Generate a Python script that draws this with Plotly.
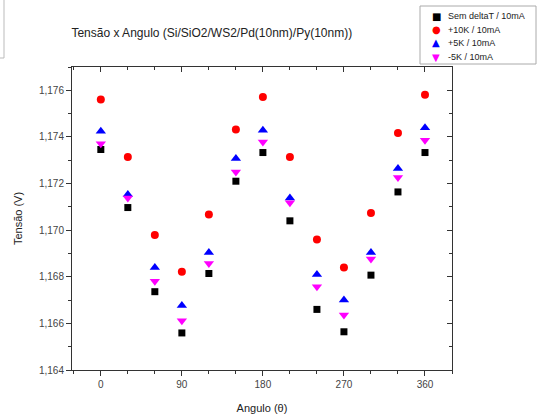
import plotly.graph_objects as go

angles = [0, 30, 60, 90, 120, 150, 180, 210, 240, 270, 300, 330, 360]
sem_delta = [1.17346, 1.17097, 1.16736, 1.16559, 1.16814, 1.17210, 1.17333,
             1.17040, 1.16660, 1.16564, 1.16807, 1.17164, 1.17333]
plus10k = [1.17561, 1.17314, 1.16979, 1.16821, 1.17067, 1.17432, 1.17571,
           1.17314, 1.16960, 1.16840, 1.17074, 1.17417, 1.17581]
plus5k = [1.17424, 1.17153, 1.16840, 1.16677, 1.16904, 1.17307, 1.17429,
          1.17138, 1.16810, 1.16700, 1.16904, 1.17264, 1.17439]
minus5k = [1.17371, 1.17138, 1.16781, 1.16611, 1.16857, 1.17250, 1.17378,
           1.17118, 1.16757, 1.16636, 1.16876, 1.17226, 1.17386]

names = ["Sem deltaT / 10mA", "+10K / 10mA", "+5K / 10mA", "-5K / 10mA"]
series = [sem_delta, plus10k, plus5k, minus5k]
colors = ["#000000", "#ff0000", "#0000ff", "#ff00ff"]
symbols = ["square", "circle", "triangle-up", "triangle-down"]
glyphs = ["■", "●", "▲", "▼"]
sizes = [7, 8, 9, 9]

FONT = "Arial, Liberation Sans, sans-serif"

# plot area in pixels
L, R, T, B = 72, 452, 67, 370
W, H = 539, 420


def px(xp):
    return (xp - L) / (R - L)


def py(yp):
    return (B - yp) / (B - T)


fig = go.Figure()
for n, s, c, sym, sz in zip(names, series, colors, symbols, sizes):
    fig.add_trace(go.Scatter(x=angles, y=s, mode="markers", name=n, showlegend=False,
                             marker=dict(color=c, symbol=sym, size=sz, line=dict(width=0))))

# invisible trace for the mirrored (inward tick) axes
fig.add_trace(go.Scatter(x=[None], y=[None], xaxis="x2", yaxis="y2",
                         showlegend=False, hoverinfo="skip"))

xr = [-32, 390]
yr = [1.164, 1.177]

# custom compact legend (Origin style)
annotations = []
row_y = [16, 30, 43, 57]
for g, c, n, ry in zip(glyphs, colors, names, row_y):
    annotations.append(dict(xref="paper", yref="paper", x=px(430), y=py(ry),
                            xanchor="left", yanchor="middle", showarrow=False,
                            text=f"<span style='color:{c}'>{g}</span>",
                            font=dict(size=10, family="DejaVu Sans", color=c)))
    annotations.append(dict(xref="paper", yref="paper", x=px(446), y=py(ry),
                            xanchor="left", yanchor="middle", showarrow=False,
                            text=n, font=dict(size=9, family=FONT, color="#222")))

shapes = [
    dict(type="rect", xref="paper", yref="paper",
         x0=px(420), x1=px(536), y0=py(64), y1=py(6),
         line=dict(color="#aaaaaa", width=1), fillcolor="white", layer="above"),
    dict(type="rect", xref="paper", yref="paper",
         x0=px(-6), x1=px(4), y0=py(58), y1=py(-2),
         line=dict(color="#bbbbbb", width=1), fillcolor="rgba(0,0,0,0)"),
]

fig.update_layout(
    width=W, height=H,
    margin=dict(l=L, r=W - R, t=T, b=H - B, autoexpand=False),
    paper_bgcolor="white", plot_bgcolor="white",
    separators=",.",
    showlegend=False,
    font=dict(family=FONT, color="#333333"),
    title=dict(text="Tensão x Angulo (Si/SiO2/WS2/Pd(10nm)/Py(10nm))",
               xref="container", yref="container", x=0.393, y=1 - 33 / 420,
               xanchor="center", yanchor="middle",
               font=dict(size=12, family=FONT, color="#222222")),
    xaxis=dict(range=xr, tick0=0, dtick=90, ticks="outside", ticklen=5, tickwidth=1,
               tickcolor="#333", showline=True, linecolor="#333", linewidth=1, mirror=True,
               showgrid=False, zeroline=False,
               tickfont=dict(size=10, family=FONT, color="#444"),
               minor=dict(dtick=30, tick0=0, ticks="outside", ticklen=3, tickcolor="#333"),
               title=dict(text="Angulo (θ)", font=dict(size=11, family=FONT, color="#222"),
                          standoff=15)),
    yaxis=dict(range=yr, tick0=1.164, dtick=0.002, tickformat=".3f", ticks="outside",
               ticklen=5, tickwidth=1, tickcolor="#333", showline=True, linecolor="#333",
               linewidth=1, mirror=True, showgrid=False, zeroline=False,
               tickfont=dict(size=10, family=FONT, color="#444"),
               minor=dict(dtick=0.001, ticks="outside", ticklen=3, tickcolor="#333"),
               title=dict(text="Tensão (V)", font=dict(size=11, family=FONT, color="#222"),
                          standoff=14)),
    xaxis2=dict(range=xr, overlaying="x", side="top", tick0=0, dtick=90, ticks="inside",
                ticklen=5, tickcolor="#333", showticklabels=False, showgrid=False,
                zeroline=False, showline=False,
                minor=dict(dtick=30, tick0=0, ticks="inside", ticklen=3, tickcolor="#333")),
    yaxis2=dict(range=yr, overlaying="y", side="right", tick0=1.164, dtick=0.002,
                ticks="inside", ticklen=5, tickcolor="#333", showticklabels=False,
                showgrid=False, zeroline=False, showline=False,
                minor=dict(dtick=0.001, ticks="inside", ticklen=3, tickcolor="#333")),
    annotations=annotations,
    shapes=shapes,
)

fig.write_html("out.html")
